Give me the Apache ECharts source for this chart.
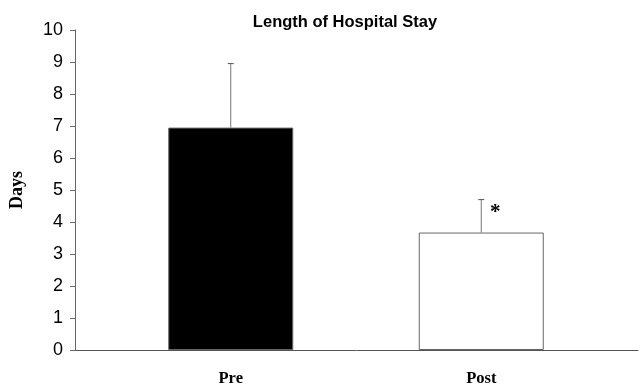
<!DOCTYPE html>
<html><head><meta charset="utf-8">
<script src="https://cdn.jsdelivr.net/npm/echarts@6/dist/echarts.min.js"></script>
<style>html,body{margin:0;padding:0;background:#fff}#c{width:642px;height:389px}</style>
</head><body><div id="c"></div>
<script>
const categories = ['Pre', 'Post'];
const means = [6.95, 3.67];
const errUpper = [8.95, 4.7];
const annotations = ['', '*'];
const yTicks = [0, 10, 1];

const chart = echarts.init(document.getElementById('c'));
const barColors = ['#000000', '#ffffff'];
chart.setOption({
  animation: false,
  title: {
    text: 'Length of Hospital Stay', left: 340, top: 9, textAlign: 'center',
    textStyle: { fontFamily: 'Liberation Sans', fontWeight: 'bold', fontSize: 16.5, color: '#000' }
  },
  grid: [
    { left: 105.5, right: 35.5, top: 30, bottom: 39 },
    { left: 75, right: 4, top: 30, bottom: 39 }
  ],
  xAxis: [
    { type: 'category', gridIndex: 0, data: categories, boundaryGap: true,
      axisLine: { show: false }, axisTick: { show: false },
      axisLabel: { margin: 20, fontFamily: 'Liberation Serif', fontWeight: 'bold', fontSize: 16.5, color: '#000' } },
    { type: 'category', gridIndex: 1, data: [''], axisLine: { show: true, lineStyle: { color: '#555', width: 1 } },
      axisTick: { show: false }, axisLabel: { show: false } }
  ],
  yAxis: [
    { type: 'value', gridIndex: 0, min: yTicks[0], max: yTicks[1], interval: yTicks[2], show: false },
    { type: 'value', gridIndex: 1, min: yTicks[0], max: yTicks[1], interval: yTicks[2],
      name: 'Days', nameLocation: 'middle', nameGap: 49, nameRotate: 90,
      nameTextStyle: { fontFamily: 'Liberation Serif', fontWeight: 'bold', fontSize: 18, color: '#000' },
      axisLine: { show: true, lineStyle: { color: '#666', width: 1 } },
      axisTick: { show: true, length: 5, lineStyle: { color: '#666' } },
      splitLine: { show: false },
      axisLabel: { margin: 12, fontFamily: 'Liberation Sans', fontSize: 18, color: '#000' } }
  ],
  series: [
    { type: 'bar', xAxisIndex: 0, yAxisIndex: 0, barWidth: 125,
      data: means.map((v, i) => ({ value: v, itemStyle: { color: barColors[i], borderColor: '#666', borderWidth: 1 } })) },
    { type: 'custom', xAxisIndex: 0, yAxisIndex: 0, z: 5,
      data: categories.map((c, i) => [i, means[i], errUpper[i]]),
      renderItem: function (params, api) {
        const i = api.value(0);
        const base = api.coord([i, api.value(1)]);
        const top = api.coord([i, api.value(2)]);
        const children = [
          { type: 'line', shape: { x1: base[0], y1: base[1], x2: top[0], y2: top[1] }, style: { stroke: '#777', lineWidth: 1 } },
          { type: 'line', shape: { x1: top[0] - 3, y1: top[1], x2: top[0] + 3, y2: top[1] }, style: { stroke: '#555', lineWidth: 1 } }
        ];
        const ann = annotations[i];
        if (ann) {
          children.push({ type: 'text', x: top[0] + 14, y: top[1] + 13,
            style: { text: ann, fill: '#000', font: 'bold 21px Liberation Serif', align: 'center', verticalAlign: 'middle' } });
        }
        return { type: 'group', children: children };
      } }
  ]
});
</script></body></html>
